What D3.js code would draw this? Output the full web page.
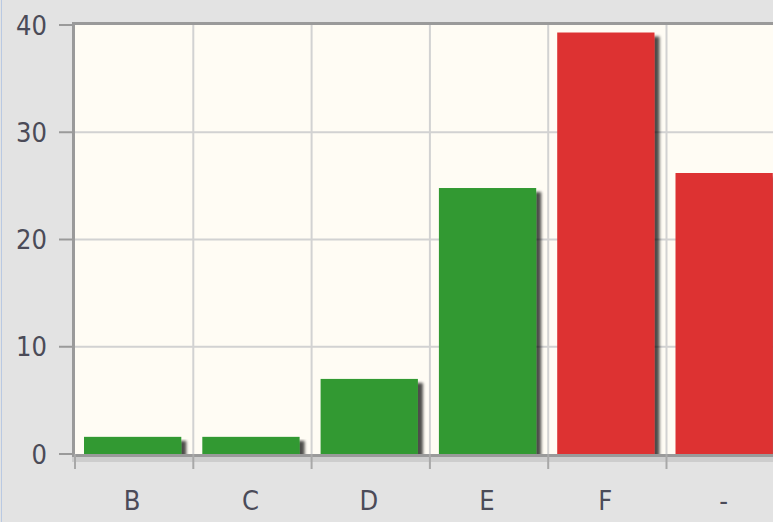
<!DOCTYPE html>
<html lang="en">
<head>
    <meta charset="UTF-8">
    <title>Grades</title>
    <style>
        body {
            margin: 0;
            background: #e3e3e3;
            overflow: hidden;
        }
        #chart svg {
            display: block;
        }
        .tick-label {
            font-family: "DejaVu Sans Condensed", "DejaVu Sans", sans-serif;
            font-size: 27px;
            fill: #4b4b58;
        }
    </style>
</head>
<body>
<div id="chart"></div>

<script src="https://d3js.org/d3.v7.min.js"></script>
<script>
    // data
    const categories = ["B", "C", "D", "E", "F", "-"];
    const values = [1.6, 1.6, 7.0, 24.8, 39.3, 26.2];
    const barColors = ["#339933", "#339933", "#339933", "#339933", "#dd3333", "#dd3333"];
    const yTicks = [0, 10, 20, 30, 40];

    const W = 773, H = 522;
    const margin = { top: 25, left: 75, bottom: 454 };
    const step = 118.3;

    const svg = d3.select("#chart").append("svg")
        .attr("width", W)
        .attr("height", H);

    const defs = svg.append("defs");
    const shadow = defs.append("filter")
        .attr("id", "shadow")
        .attr("x", "-10%").attr("y", "-10%")
        .attr("width", "130%").attr("height", "130%");
    shadow.append("feGaussianBlur").attr("in", "SourceAlpha").attr("stdDeviation", 1.6);
    shadow.append("feOffset").attr("dx", 5).attr("dy", 4).attr("result", "off");
    shadow.append("feComponentTransfer").append("feFuncA").attr("type", "linear").attr("slope", 0.7);
    const merge = shadow.append("feMerge");
    merge.append("feMergeNode");
    merge.append("feMergeNode").attr("in", "SourceGraphic");

    // window edge
    svg.append("line")
        .attr("x1", 1.5).attr("x2", 1.5).attr("y1", 0).attr("y2", H)
        .attr("stroke", "#b9c9e2").attr("stroke-width", 1);

    const x = d3.scaleBand()
        .domain(categories)
        .range([margin.left, margin.left + step * categories.length]);

    const y = d3.scaleLinear()
        .domain([0, 40])
        .range([margin.bottom, margin.top]);

    // plot background
    svg.append("rect")
        .attr("x", margin.left)
        .attr("y", margin.top)
        .attr("width", step * categories.length)
        .attr("height", margin.bottom - margin.top)
        .attr("fill", "#fffcf4");

    // horizontal grid
    svg.append("g")
        .selectAll("line")
        .data(yTicks.filter(d => d > 0 && d < 40))
        .join("line")
        .attr("x1", margin.left)
        .attr("x2", W)
        .attr("y1", d => y(d))
        .attr("y2", d => y(d))
        .attr("stroke", "#d2d2d2")
        .attr("stroke-width", 2);

    // vertical grid at category boundaries
    svg.append("g")
        .selectAll("line")
        .data(categories.slice(1))
        .join("line")
        .attr("x1", d => x(d))
        .attr("x2", d => x(d))
        .attr("y1", margin.top)
        .attr("y2", margin.bottom)
        .attr("stroke", "#d2d2d2")
        .attr("stroke-width", 2);

    // bars
    svg.append("g")
        .selectAll("rect")
        .data(values)
        .join("rect")
        .attr("x", (d, i) => x(categories[i]) + 9)
        .attr("y", d => y(d))
        .attr("width", x.bandwidth() - 21)
        .attr("height", d => y(0) - y(d))
        .attr("fill", (d, i) => barColors[i])
        .attr("filter", "url(#shadow)");

    // frame top
    svg.append("line")
        .attr("x1", margin.left - 2).attr("x2", W)
        .attr("y1", margin.top - 1.5).attr("y2", margin.top - 1.5)
        .attr("stroke", "#9a9a9a").attr("stroke-width", 3);

    // y axis
    const yAxis = svg.append("g");
    yAxis.append("line")
        .attr("x1", margin.left - 1.5).attr("x2", margin.left - 1.5)
        .attr("y1", margin.top - 3).attr("y2", margin.bottom + 2)
        .attr("stroke", "#9a9a9a").attr("stroke-width", 3);
    yAxis.selectAll(".tk")
        .data(yTicks)
        .join("line")
        .attr("class", "tk")
        .attr("x1", 59).attr("x2", margin.left - 2)
        .attr("y1", d => y(d)).attr("y2", d => y(d))
        .attr("stroke", "#9a9a9a").attr("stroke-width", 2);
    yAxis.selectAll("text")
        .data(yTicks)
        .join("text")
        .attr("class", "tick-label")
        .attr("x", 47)
        .attr("y", d => y(d))
        .attr("dy", "0.36em")
        .attr("text-anchor", "end")
        .text(d => d);

    // x axis
    const xAxis = svg.append("g");
    xAxis.append("rect")
        .attr("x", margin.left - 3).attr("y", margin.bottom + 3)
        .attr("width", W).attr("height", 5)
        .attr("fill", "#cdcdcd");
    xAxis.append("line")
        .attr("x1", margin.left - 3).attr("x2", W)
        .attr("y1", margin.bottom + 1.5).attr("y2", margin.bottom + 1.5)
        .attr("stroke", "#9a9a9a").attr("stroke-width", 3);
    xAxis.selectAll(".tk")
        .data(categories)
        .join("line")
        .attr("class", "tk")
        .attr("x1", d => x(d)).attr("x2", d => x(d))
        .attr("y1", margin.bottom).attr("y2", margin.bottom + 15)
        .attr("stroke", "#a8a8a8").attr("stroke-width", 2);
    xAxis.selectAll("text")
        .data(categories)
        .join("text")
        .attr("class", "tick-label")
        .attr("x", d => x(d) + x.bandwidth() / 2 - 2)
        .attr("y", 500)
        .attr("dy", "0.36em")
        .attr("text-anchor", "middle")
        .text(d => d);
</script>
</body>
</html>
